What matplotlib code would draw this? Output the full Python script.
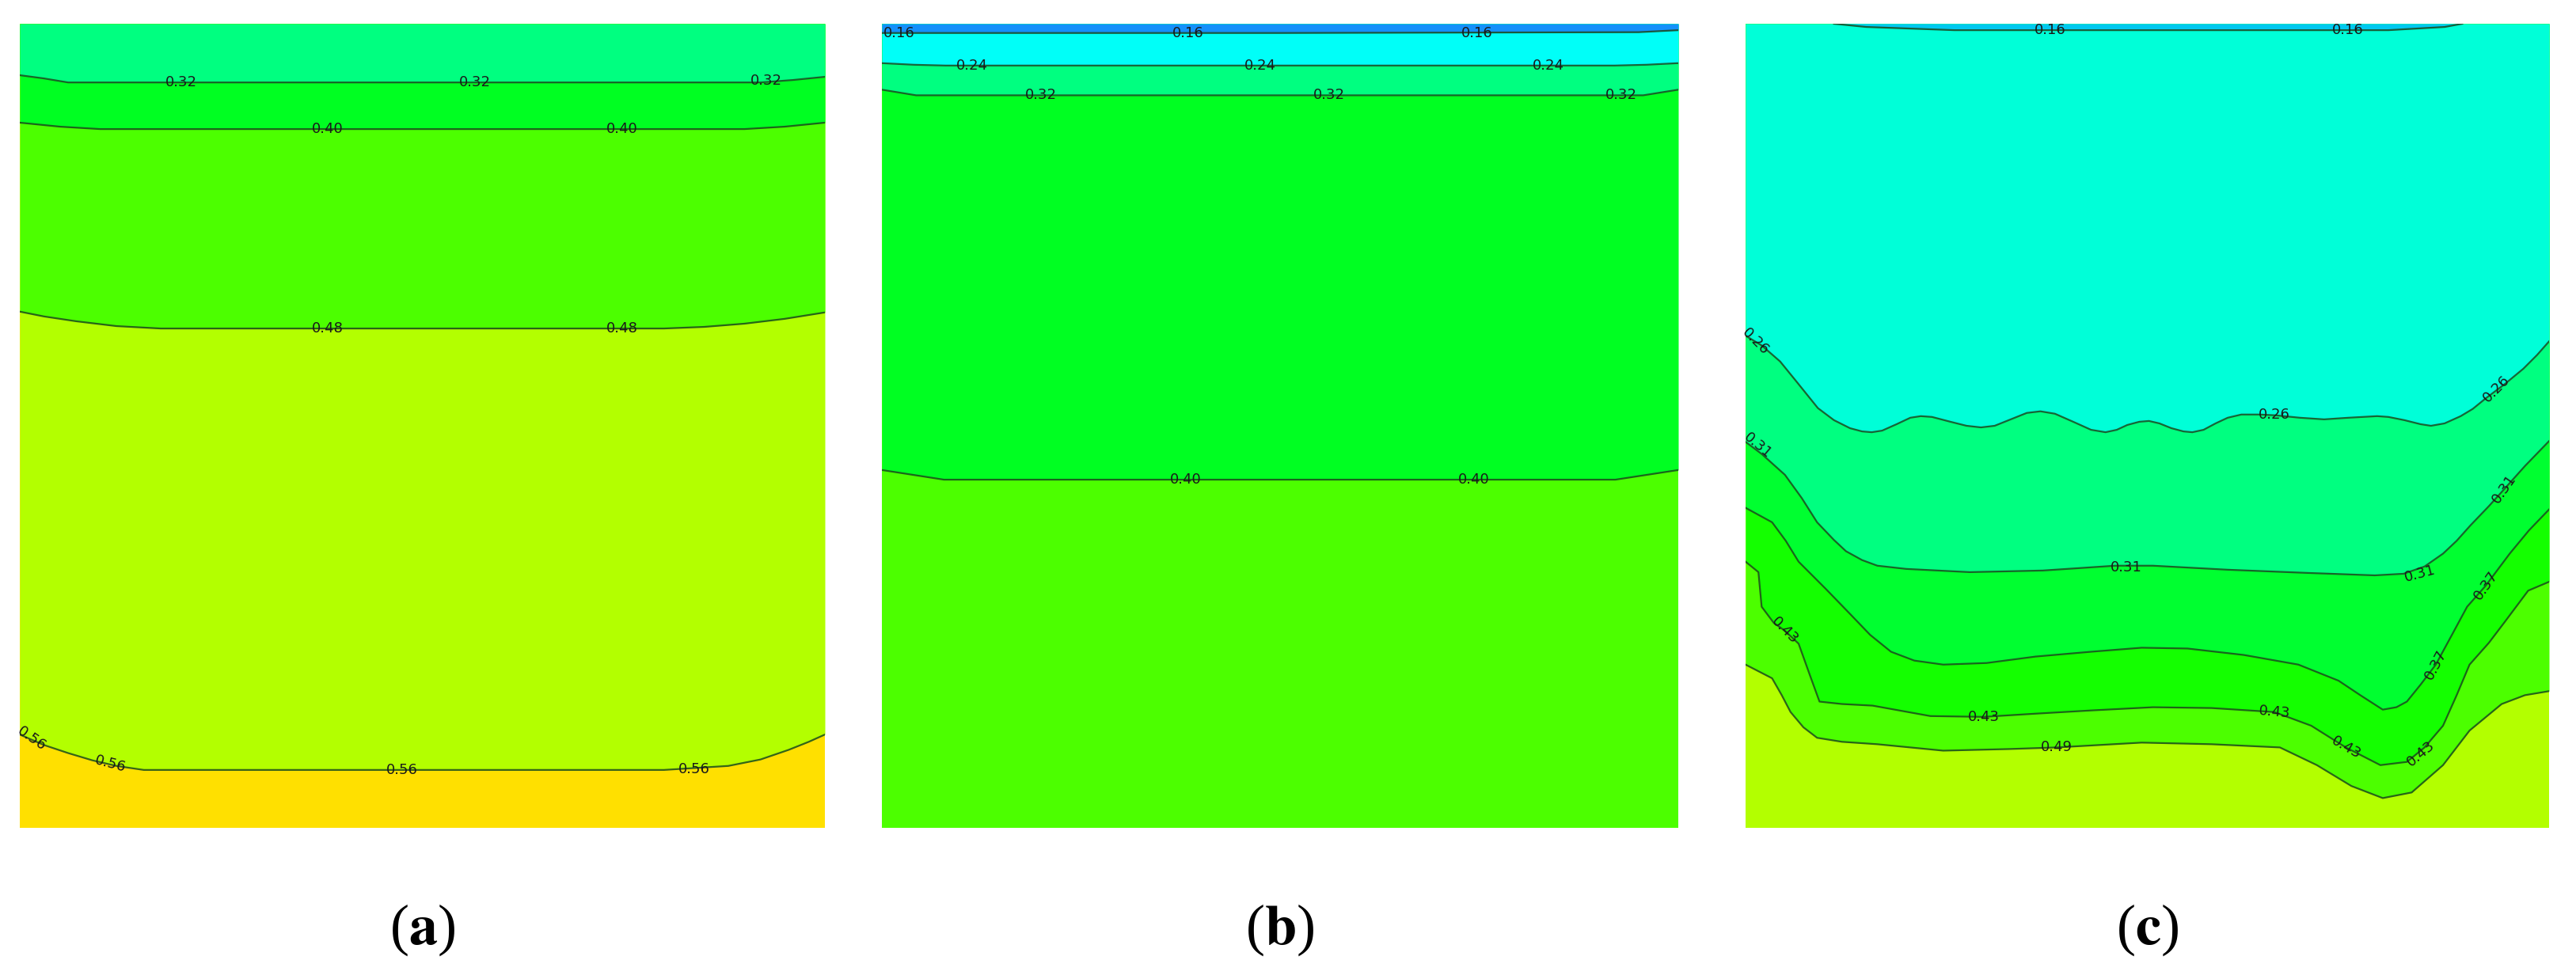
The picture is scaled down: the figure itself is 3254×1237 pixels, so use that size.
import numpy as np
import matplotlib.pyplot as plt

plt.rcParams['mathtext.fontset'] = 'stix'

# iso-lines: x = fraction of panel width, d = depth from the top (fraction of height)

# ---- panel (a)
a_x_032 = [0.0, 0.03, 0.06, 0.5, 0.92, 0.96, 1.0]
a_d_032 = [0.064, 0.068, 0.073, 0.073, 0.073, 0.070, 0.066]
a_x_040 = [0.0, 0.05, 0.10, 0.5, 0.90, 0.95, 1.0]
a_d_040 = [0.123, 0.128, 0.131, 0.131, 0.131, 0.128, 0.123]
a_x_048 = [0.0, 0.03, 0.07, 0.12, 0.175, 0.5, 0.80, 0.85, 0.90, 0.95, 1.0]
a_d_048 = [0.358, 0.364, 0.370, 0.376, 0.379, 0.379, 0.379, 0.377, 0.373, 0.367, 0.359]
a_x_056 = [0.0, 0.03, 0.06, 0.09, 0.12, 0.154, 0.5, 0.80, 0.88, 0.92, 0.955, 0.98, 1.0]
a_d_056 = [0.884, 0.897, 0.907, 0.916, 0.923, 0.928, 0.928, 0.928, 0.923, 0.915, 0.903, 0.893, 0.884]
a_lab_text = ['0.32', '0.32', '0.32', '0.40', '0.40', '0.48', '0.48', '0.56', '0.56', '0.56', '0.56']
a_lab_x = [0.20, 0.565, 0.927, 0.382, 0.748, 0.382, 0.748, 0.015, 0.113, 0.475, 0.838]
a_lab_d = [0.073, 0.073, 0.071, 0.131, 0.131, 0.379, 0.379, 0.889, 0.921, 0.928, 0.927]
a_lab_rot = [0, 0, 0, 0, 0, 0, 0, -35, -15, 0, 0]

# ---- panel (b)
b_x_016 = [0.0, 0.05, 0.5, 0.95, 1.0]
b_d_016 = [0.0115, 0.0115, 0.0115, 0.0105, 0.008]
b_x_024 = [0.0, 0.04, 0.08, 0.5, 0.92, 0.96, 1.0]
b_d_024 = [0.049, 0.051, 0.052, 0.052, 0.052, 0.051, 0.049]
b_x_032 = [0.0, 0.043, 0.5, 0.956, 1.0]
b_d_032 = [0.082, 0.089, 0.089, 0.089, 0.082]
b_x_040 = [0.0, 0.078, 0.5, 0.921, 1.0]
b_d_040 = [0.555, 0.567, 0.567, 0.567, 0.555]
b_lab_text = ['0.16', '0.16', '0.16', '0.24', '0.24', '0.24', '0.32', '0.32', '0.32', '0.40', '0.40']
b_lab_x = [0.022, 0.384, 0.747, 0.113, 0.475, 0.837, 0.20, 0.562, 0.928, 0.381, 0.743]
b_lab_d = [0.0115, 0.0115, 0.0115, 0.052, 0.052, 0.052, 0.089, 0.089, 0.089, 0.567, 0.567]
b_lab_rot = [0] * 11

# ---- panel (c)
c_x_016 = [0.11, 0.15, 0.26, 0.5, 0.80, 0.87, 0.892]
c_d_016 = [0.0, 0.004, 0.008, 0.008, 0.008, 0.004, 0.0]
c_x_026 = [0.0, 0.02, 0.043, 0.065, 0.09, 0.11, 0.13, 0.145, 0.157, 0.17, 0.188, 0.205,
           0.218, 0.232, 0.255, 0.275, 0.293, 0.31, 0.33, 0.35, 0.367, 0.385, 0.41, 0.43,
           0.448, 0.462, 0.475, 0.49, 0.502, 0.515, 0.53, 0.545, 0.556, 0.57, 0.585, 0.60,
           0.617, 0.64, 0.66, 0.69, 0.72, 0.75, 0.786, 0.80, 0.82, 0.84, 0.853, 0.87,
           0.89, 0.905, 0.921, 0.945, 0.968, 0.985, 1.0]
c_d_026 = [0.388, 0.400, 0.420, 0.447, 0.478, 0.493, 0.503, 0.507, 0.508, 0.506, 0.498, 0.490,
           0.488, 0.489, 0.495, 0.500, 0.502, 0.500, 0.492, 0.484, 0.482, 0.485, 0.496, 0.505,
           0.508, 0.505, 0.499, 0.495, 0.494, 0.497, 0.503, 0.507, 0.508, 0.505, 0.497, 0.490,
           0.486, 0.486, 0.487, 0.490, 0.492, 0.490, 0.488, 0.489, 0.493, 0.498, 0.500, 0.497,
           0.488, 0.479, 0.466, 0.448, 0.429, 0.412, 0.395]
c_x_031 = [0.0, 0.02, 0.049, 0.07, 0.089, 0.11, 0.125, 0.145, 0.164, 0.2, 0.279, 0.37, 0.46,
           0.507, 0.6, 0.7, 0.783, 0.819, 0.845, 0.868, 0.885, 0.902, 0.925, 0.944, 0.97, 1.0]
c_d_031 = [0.52, 0.535, 0.561, 0.59, 0.62, 0.642, 0.656, 0.667, 0.674, 0.678, 0.682, 0.68, 0.674,
           0.674, 0.679, 0.683, 0.686, 0.684, 0.675, 0.659, 0.643, 0.624, 0.60, 0.579, 0.55, 0.519]
c_x_037 = [0.0, 0.033, 0.05, 0.066, 0.10, 0.131, 0.155, 0.181, 0.21, 0.246, 0.30, 0.361, 0.43,
           0.493, 0.55, 0.62, 0.688, 0.738, 0.765, 0.793, 0.81, 0.823, 0.84, 0.859, 0.878,
           0.898, 0.921, 0.951, 0.975, 1.0]
c_d_037 = [0.602, 0.62, 0.643, 0.669, 0.703, 0.735, 0.76, 0.781, 0.792, 0.797, 0.795, 0.787, 0.781,
           0.776, 0.777, 0.785, 0.797, 0.817, 0.835, 0.853, 0.85, 0.843, 0.822, 0.797, 0.762,
           0.725, 0.699, 0.659, 0.63, 0.604]
c_x_043 = [0.0, 0.016, 0.02, 0.035, 0.049, 0.066, 0.08, 0.092, 0.12, 0.158, 0.23, 0.296, 0.361,
           0.43, 0.507, 0.58, 0.658, 0.704, 0.747, 0.79, 0.823, 0.845, 0.868, 0.885, 0.901,
           0.925, 0.944, 0.974, 1.0]
c_d_043 = [0.669, 0.682, 0.725, 0.745, 0.755, 0.771, 0.81, 0.843, 0.846, 0.848, 0.861, 0.862, 0.858,
           0.854, 0.85, 0.851, 0.856, 0.873, 0.90, 0.922, 0.918, 0.90, 0.873, 0.835, 0.797,
           0.77, 0.745, 0.705, 0.694]
c_x_049 = [0.0, 0.033, 0.045, 0.056, 0.072, 0.089, 0.12, 0.164, 0.246, 0.328, 0.387, 0.493,
           0.58, 0.665, 0.711, 0.754, 0.793, 0.829, 0.868, 0.901, 0.941, 0.97, 1.0]
c_d_049 = [0.797, 0.814, 0.835, 0.856, 0.875, 0.888, 0.893, 0.896, 0.904, 0.902, 0.90, 0.894,
           0.896, 0.90, 0.922, 0.948, 0.963, 0.956, 0.922, 0.879, 0.846, 0.835, 0.83]
c_lab_text = ['0.16', '0.16', '0.26', '0.26', '0.26', '0.31', '0.31', '0.31', '0.31',
              '0.37', '0.37', '0.43', '0.43', '0.43', '0.43', '0.43', '0.49']
c_lab_x = [0.379, 0.75, 0.012, 0.658, 0.934, 0.015, 0.474, 0.839, 0.944,
           0.859, 0.921, 0.049, 0.296, 0.658, 0.747, 0.84, 0.387]
c_lab_d = [0.008, 0.008, 0.395, 0.486, 0.454, 0.525, 0.676, 0.684, 0.579,
           0.797, 0.699, 0.755, 0.862, 0.856, 0.90, 0.908, 0.90]
c_lab_rot = [0, 0, -45, 0, 45, -40, 0, 15, 55, 62, 55, -45, 0, -5, -30, 40, 0]

panel_names = ['a', 'b', 'c']

# colour of each band, top to bottom (one more than number of lines)
a_colors = ['#00FF80', '#00FF22', '#4CFF00', '#B3FF00', '#FFE000']
b_colors = ['#1490FA', '#00FFF8', '#00FF80', '#00FF22', '#4CFF00']
c_colors = ['#00C8F0', '#00FFD8', '#00FF80', '#00FF30', '#14FF00', '#4CFF00', '#B3FF00']


def draw_panel(ax, lines, colors, lab_text, lab_x, lab_d, lab_rot):
    ax.fill_between([0, 1], 0, 1, color=colors[-1], lw=0)
    # paint from the deepest line upwards
    for i in range(len(lines) - 1, -1, -1):
        x, d = lines[i]
        ax.fill_between(x, 0, d, color=colors[i], lw=0)
    for x, d in lines:
        ax.plot(x, d, color='#1c4a1c', lw=1.6, alpha=0.85, solid_joinstyle='round')
    for s, x, d, r in zip(lab_text, lab_x, lab_d, lab_rot):
        ax.text(x, d, s, fontsize=13, ha='center', va='center', rotation=r,
                rotation_mode='anchor', color='#1a1a1a')
    ax.set_xlim(0, 1)
    ax.set_ylim(1, 0)
    ax.axis('off')


fig = plt.figure(figsize=(32.55, 12.37), dpi=100)

W, H = 3255.0, 1237.0
top_px, bot_px = 30, 1046
boxes = [(25, 1042), (1114, 2120), (2205, 3220)]

axes = []
for left, right in boxes:
    ax = fig.add_axes([left / W, 1 - bot_px / H, (right - left) / W, (bot_px - top_px) / H])
    axes.append(ax)

draw_panel(axes[0],
           [(a_x_032, a_d_032), (a_x_040, a_d_040), (a_x_048, a_d_048), (a_x_056, a_d_056)],
           a_colors, a_lab_text, a_lab_x, a_lab_d, a_lab_rot)
draw_panel(axes[1],
           [(b_x_016, b_d_016), (b_x_024, b_d_024), (b_x_032, b_d_032), (b_x_040, b_d_040)],
           b_colors, b_lab_text, b_lab_x, b_lab_d, b_lab_rot)
draw_panel(axes[2],
           [(c_x_016, c_d_016), (c_x_026, c_d_026), (c_x_031, c_d_031), (c_x_037, c_d_037),
            (c_x_043, c_d_043), (c_x_049, c_d_049)],
           c_colors, c_lab_text, c_lab_x, c_lab_d, c_lab_rot)

for (left, right), name in zip(boxes, panel_names):
    fig.text((left + right) / 2 / W, 1 - 1175 / H, '($\\mathbf{' + name + '}$)',
             fontsize=52, family='Liberation Serif', ha='center', va='center')

fig.savefig('out.png', dpi=100, facecolor='white')
